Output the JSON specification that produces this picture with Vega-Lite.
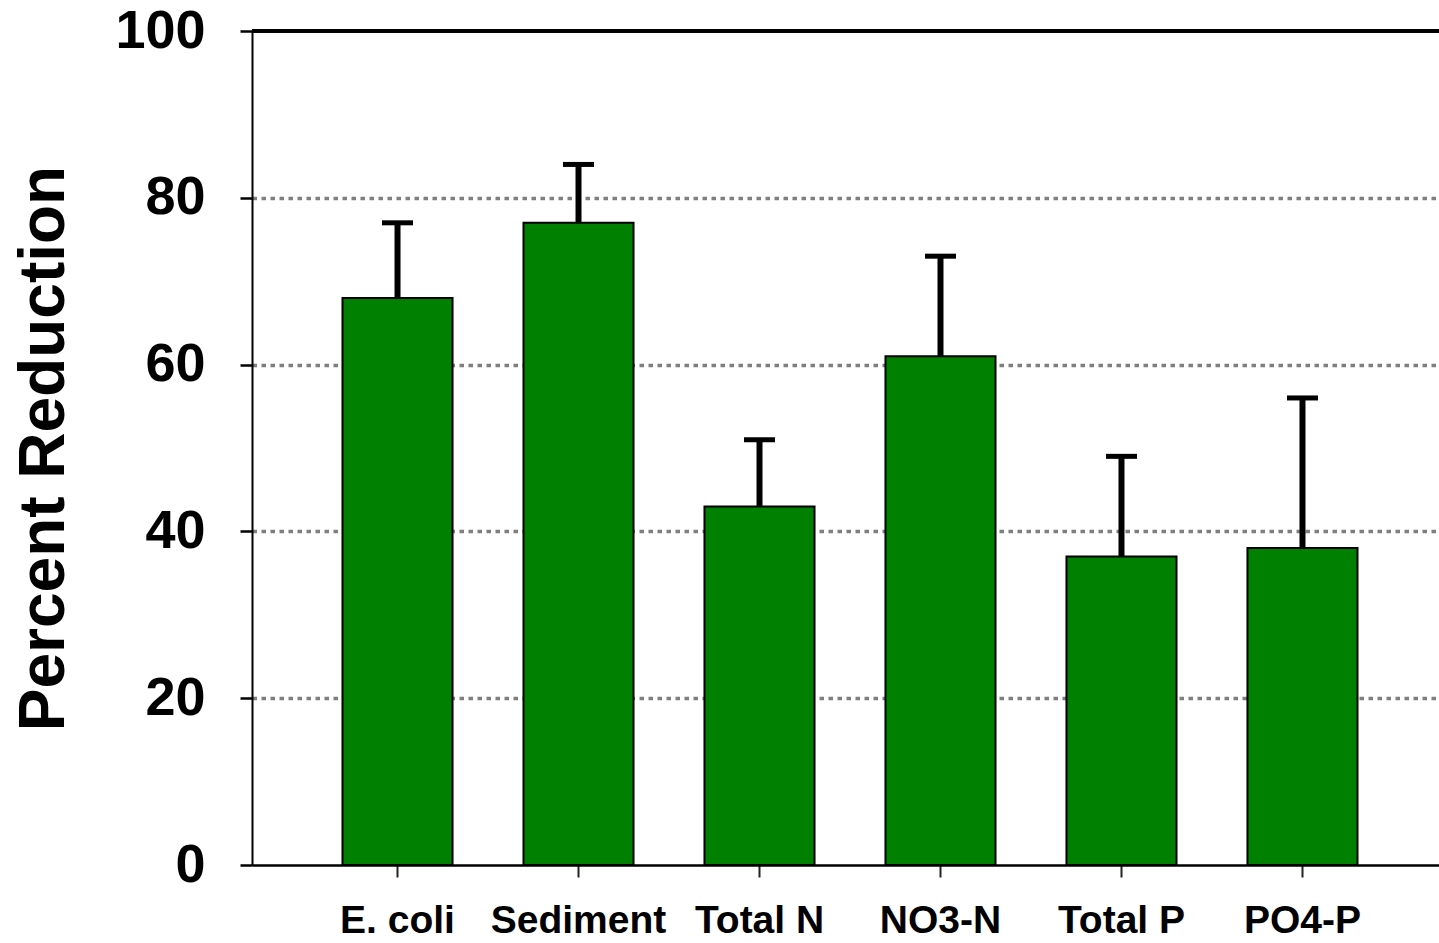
{
  "$schema": "https://vega.github.io/schema/vega-lite/v6.json",
  "width": 1196,
  "height": 834,
  "autosize": "none",
  "padding": {"left": 252, "top": 31, "right": 0, "bottom": 78},
  "background": "white",
  "config": {"view": {"stroke": null}, "font": "Liberation Sans"},
  "data": {"values": [
    {"category": "E. coli", "mean": 68, "upper": 77},
    {"category": "Sediment", "mean": 77, "upper": 84},
    {"category": "Total N", "mean": 43, "upper": 51},
    {"category": "NO3-N", "mean": 61, "upper": 73},
    {"category": "Total P", "mean": 37, "upper": 49},
    {"category": "PO4-P", "mean": 38, "upper": 56}
  ]},
  "layer": [
    {
      "mark": {"type": "bar", "fill": "#008000", "stroke": "black", "strokeWidth": 2},
      "encoding": {
        "x": {"field": "category", "type": "nominal", "sort": null,
          "scale": {"paddingInner": 0.392, "paddingOuter": 0.5},
          "axis": {"title": null, "labelAngle": 0, "labelFontSize": 39, "labelFontWeight": "bold", "labelColor": "black", "labelPadding": 24, "labelBaseline": "top", "labelOverlap": false, "tickSize": 12, "tickColor": "#222222", "tickWidth": 2, "domainColor": "black", "domainWidth": 2.5}},
        "y": {"field": "mean", "type": "quantitative",
          "scale": {"domain": [0, 100], "nice": false},
          "axis": {"values": [0, 20, 40, 60, 80, 100], "title": "Percent Reduction", "titleFontSize": 64, "titleFontWeight": "bold", "titleColor": "black", "titleX": -189, "titleY": 417, "titleAngle": -90, "titleAlign": "center", "titleBaseline": "alphabetic", "labelFontSize": 54, "labelFontWeight": "bold", "labelColor": "black", "labelPadding": 35, "labelOverlap": false, "labelFlush": false, "labelBound": false, "tickSize": 12, "tickColor": "black", "tickWidth": 2.5, "domainColor": "black", "domainWidth": 2, "grid": true, "gridColor": {"condition": {"test": "datum.value === 0 || datum.value === 100", "value": "transparent"}, "value": "#7f7f7f"}, "gridDash": [4.5, 4.5], "gridWidth": 3.5}}
      }
    },
    {
      "mark": {"type": "rule", "strokeWidth": 6, "color": "black"},
      "encoding": {
        "x": {"field": "category", "type": "nominal", "sort": null},
        "y": {"field": "mean", "type": "quantitative"},
        "y2": {"field": "upper"}
      }
    },
    {
      "mark": {"type": "tick", "thickness": 5, "size": 31, "color": "black", "opacity": 1},
      "encoding": {
        "x": {"field": "category", "type": "nominal", "sort": null},
        "y": {"field": "upper", "type": "quantitative"}
      }
    },
    {
      "mark": {"type": "rule", "strokeWidth": 3, "color": "black"},
      "encoding": {
        "y": {"datum": 100, "type": "quantitative"}
      }
    }
  ]
}
